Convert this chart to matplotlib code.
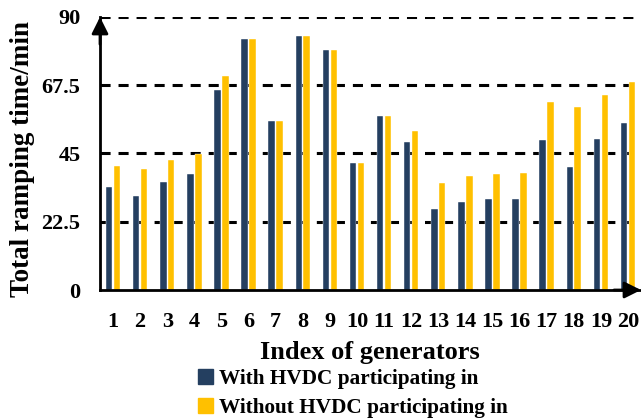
import matplotlib
matplotlib.use('Agg')
import matplotlib.pyplot as plt
from matplotlib.patches import Patch
import numpy as np

plt.rcParams['font.family'] = ['Liberation Serif', 'DejaVu Serif']
plt.rcParams['font.weight'] = 'bold'

generators = [str(i) for i in range(1, 21)]
with_hvdc = [34.1, 31.1, 35.5, 38.2, 65.9, 82.6, 55.6, 83.6, 79.1, 41.8,
             57.5, 48.8, 26.8, 28.9, 29.9, 29.9, 49.3, 40.7, 49.9, 55.0]
without_hvdc = [40.9, 39.8, 42.9, 44.8, 70.4, 82.6, 55.6, 83.6, 79.1, 41.8,
                57.5, 52.3, 35.4, 37.6, 38.4, 38.6, 62.0, 60.2, 64.4, 68.7]
yticks = [0, 22.5, 45, 67.5, 90]
ytick_labels = ['0', '22.5', '45', '67.5', '90']

navy = '#243F60'
gold = '#FFC000'

fig = plt.figure(figsize=(6.41, 4.18), dpi=100)
ax = fig.add_axes([100/641, 1 - 290/418, 541/641, 273/418])

x = np.arange(1, 21)
w = 0.24
off = 0.145
ax.bar(x - off, with_hvdc, w, color=navy, edgecolor='white', linewidth=0.3, zorder=3)
ax.bar(x + off, without_hvdc, w, color=gold, edgecolor='white', linewidth=0.3, zorder=3)

# dashed grid behind bars
for yv in yticks[1:]:
    ax.axhline(yv, color='black', linewidth=2.2, linestyle=(0, (3.3, 2.6)), zorder=1)

ax.set_xlim(0.52, 20.48)
ax.set_ylim(0, 90)
ax.set_xticks(x)
ax.set_xticklabels(generators, fontsize=16, fontweight='bold')
ax.set_yticks(yticks)
ax.set_yticklabels(ytick_labels, fontsize=16, fontweight='bold')
ax.tick_params(axis='both', length=0)
ax.tick_params(axis='y', pad=14)
ax.tick_params(axis='x', pad=16)

for s in ['top', 'right']:
    ax.spines[s].set_visible(False)
for s in ['left', 'bottom']:
    ax.spines[s].set_linewidth(2)
    ax.spines[s].set_zorder(4)

# arrow heads
ax.annotate('', xy=(0, 1.0), xytext=(0, 0.9), xycoords='axes fraction',
            arrowprops=dict(arrowstyle='-|>,head_length=1.0,head_width=0.5',
                            color='black', lw=2, shrinkA=0, shrinkB=0),
            annotation_clip=False, zorder=5)
ax.annotate('', xy=(1.0, 0), xytext=(0.95, 0), xycoords='axes fraction',
            arrowprops=dict(arrowstyle='-|>,head_length=1.0,head_width=0.5',
                            color='black', lw=2, shrinkA=0, shrinkB=0),
            annotation_clip=False, zorder=5)

fig.text(23/641, 1 - 159/418, 'Total ramping time/min', rotation=90,
         ha='center', va='center', fontsize=19.5, fontweight='bold')
fig.text(370/641, 1 - 353/418, 'Index of generators',
         ha='center', va='center', fontsize=19, fontweight='bold')

handles = [Patch(color=navy, label='With HVDC participating in'),
           Patch(color=gold, label='Without HVDC participating in')]
fig.legend(handles=handles, loc='upper left', bbox_to_anchor=(198/641, 1 - 369/418),
           frameon=False, handlelength=0.7, handleheight=0.7,
           handletextpad=0.3, labelspacing=0.4, borderaxespad=0, borderpad=0,
           prop={'weight': 'bold', 'size': 15.3})

fig.savefig('out.png', dpi=100)
